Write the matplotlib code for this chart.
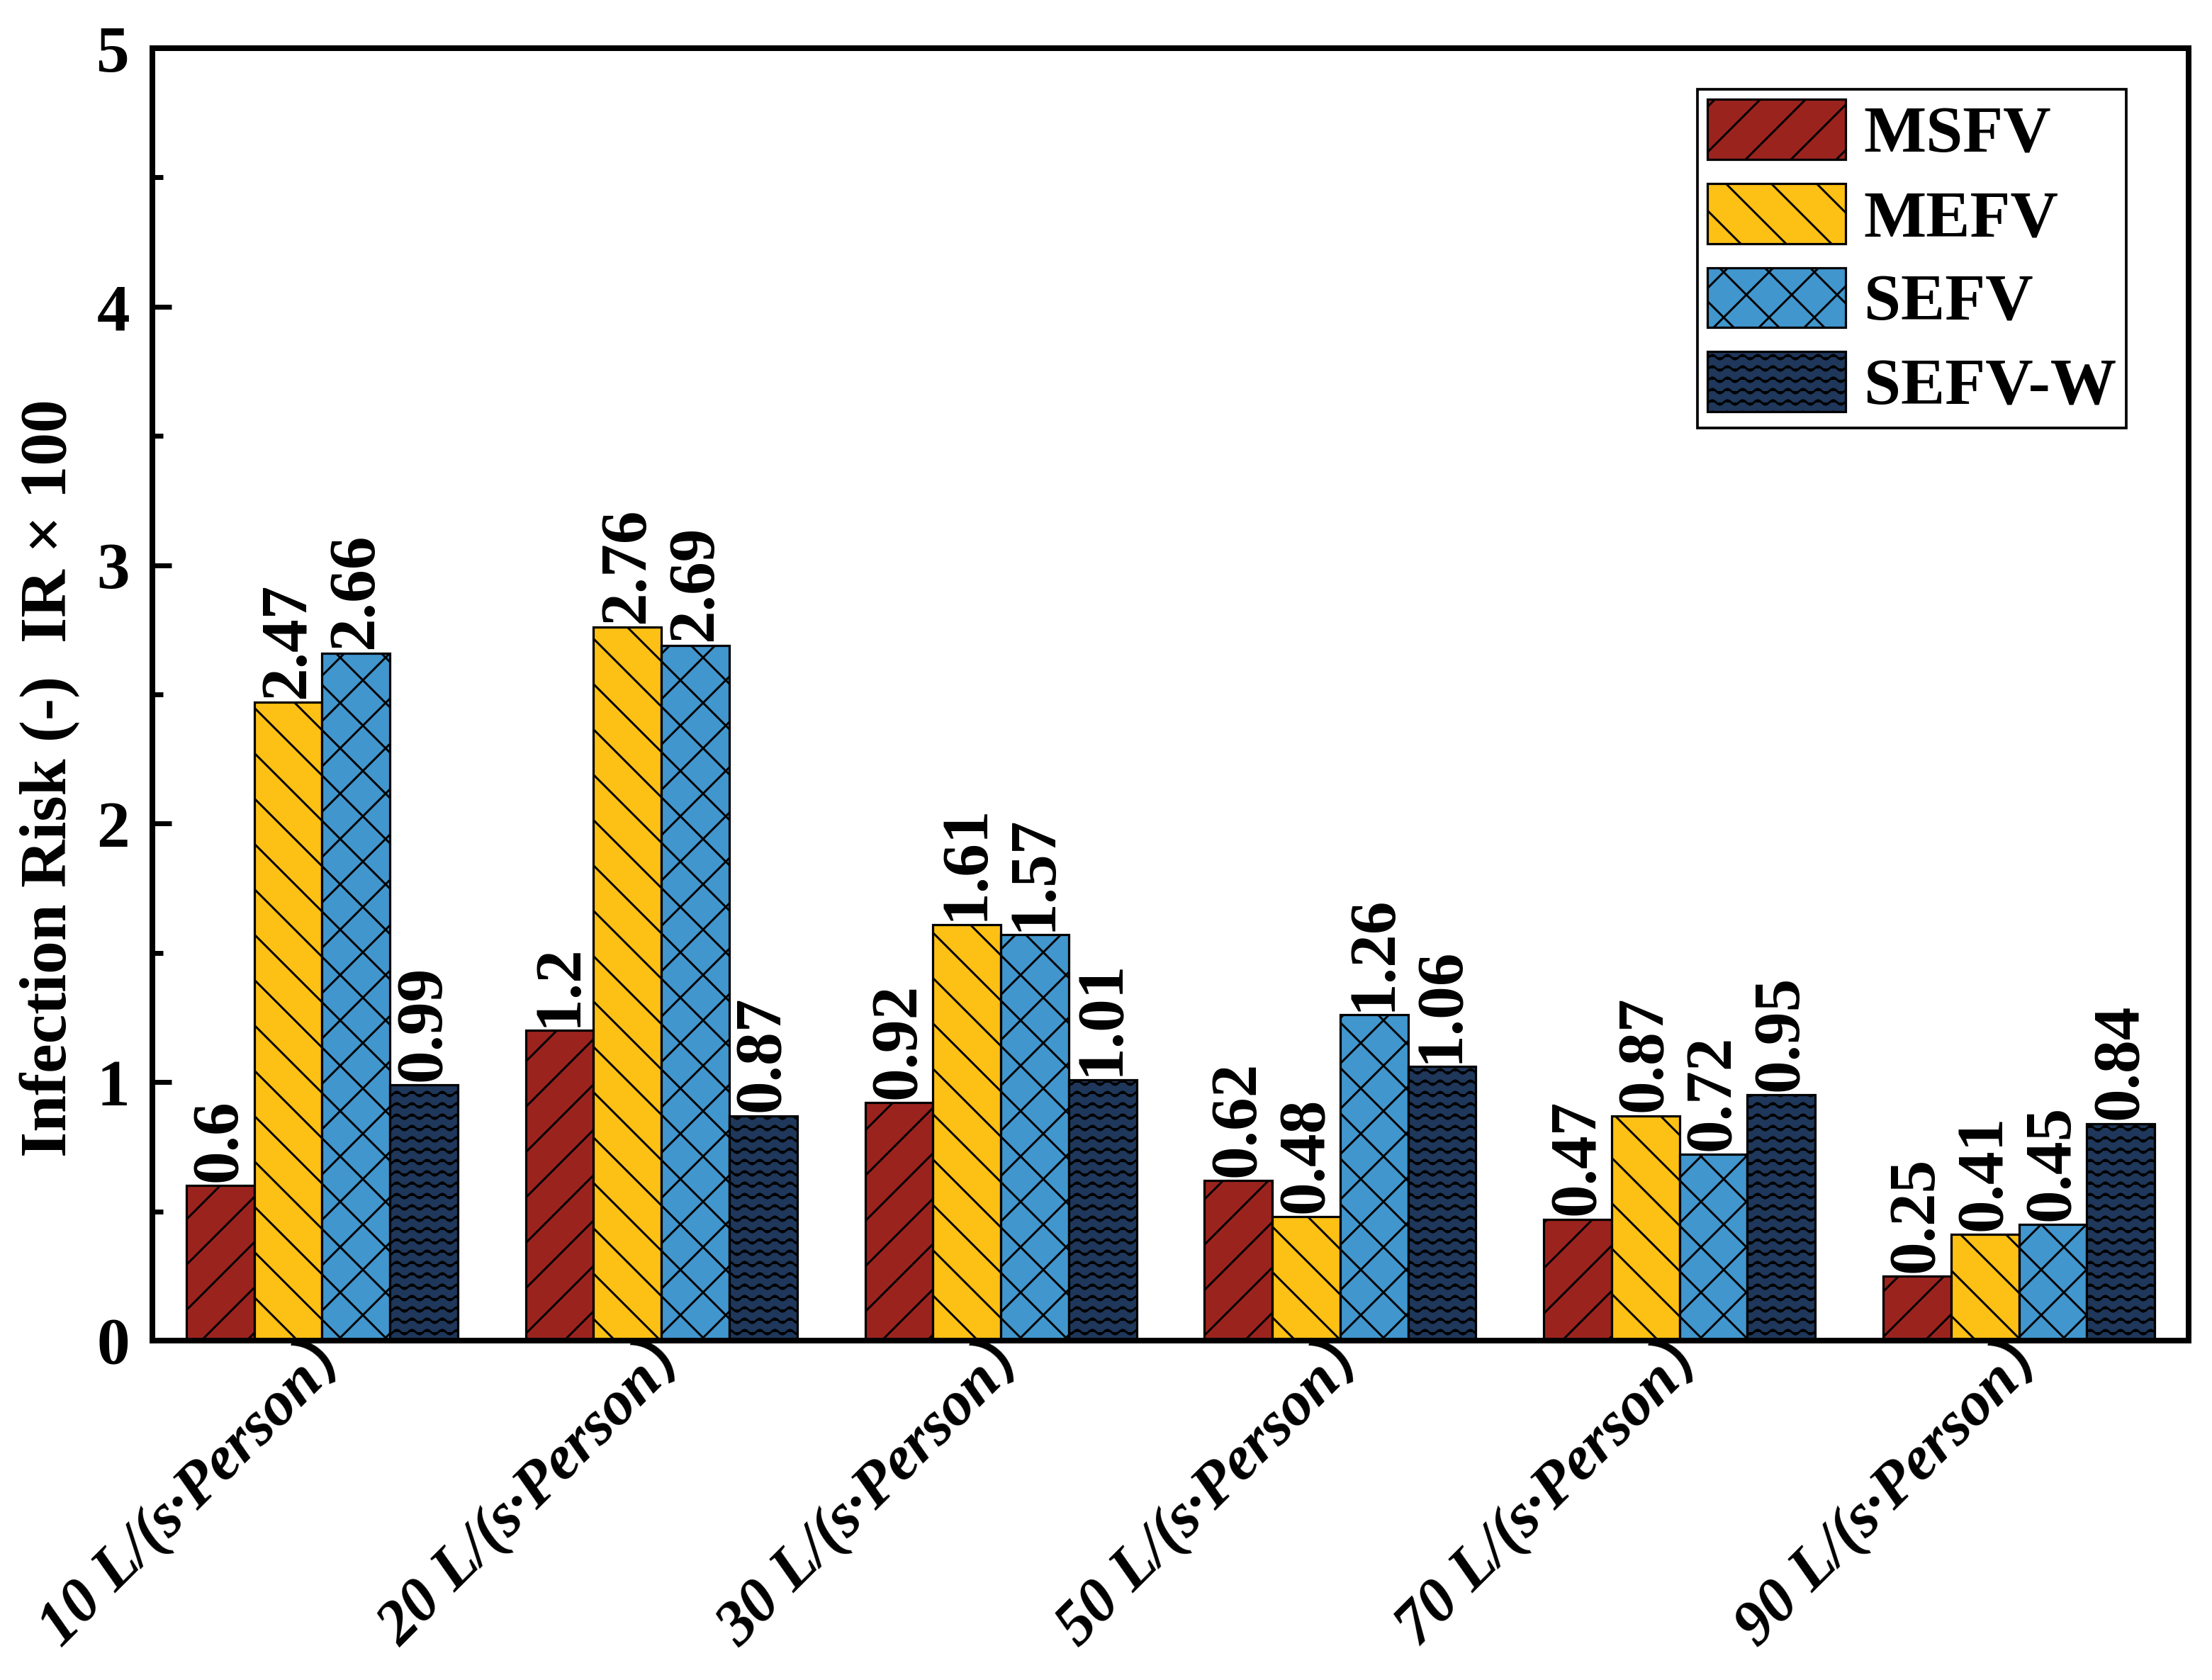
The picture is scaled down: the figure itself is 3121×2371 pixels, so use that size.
import numpy as np
import matplotlib
matplotlib.use("Agg")
import matplotlib.pyplot as plt
import matplotlib.hatch as mhatch
import matplotlib.transforms as mtransforms
from matplotlib.path import Path

# Data (Infection Risk IR x 100)
categories = ["10 L/(s·Person）", "20 L/(s·Person）", "30 L/(s·Person）",
              "50 L/(s·Person）", "70 L/(s·Person）", "90 L/(s·Person）"]
series_names = ["MSFV", "MEFV", "SEFV", "SEFV-W"]
msfv = [0.6, 1.2, 0.92, 0.62, 0.47, 0.25]
mefv = [2.47, 2.76, 1.61, 0.48, 0.87, 0.41]
sefv = [2.66, 2.69, 1.57, 1.26, 0.72, 0.45]
sefv_w = [0.99, 0.87, 1.01, 1.06, 0.95, 0.84]

colors = ["#9B231E", "#FDC014", "#4196CD", "#1E375A"]
hatches = ["//", "\\\\", "xx", "~~~~"]


# A wavy hatch ("~"), registered next to matplotlib's built-in ones
class WaveHatch(mhatch.HatchPatternBase):
    def __init__(self, hatch, density):
        self.num_lines = int(hatch.count("~") * density)
        self.periods = max(1, int(self.num_lines * 0.75))
        self.pts = self.periods * 8 + 1
        self.num_vertices = self.num_lines * self.pts

    def set_vertices_and_codes(self, vertices, codes):
        n = self.num_lines
        m = self.pts
        xs = np.linspace(0.0, 1.0, m)
        amp = 0.2 / n
        for i in range(n):
            y0 = (i + 0.5) / n
            vertices[i * m:(i + 1) * m, 0] = xs
            vertices[i * m:(i + 1) * m, 1] = y0 + amp * np.sin(2 * np.pi * self.periods * xs)
            codes[i * m:(i + 1) * m] = Path.LINETO
            codes[i * m] = Path.MOVETO


mhatch._hatch_types.append(WaveHatch)

plt.rcParams["font.family"] = ["Liberation Serif", "Noto Sans CJK SC", "DejaVu Sans"]
plt.rcParams["font.weight"] = "bold"
plt.rcParams["hatch.color"] = "black"
plt.rcParams["hatch.linewidth"] = 0.55

DPI = 384
fig = plt.figure(figsize=(3121 / DPI, 2371 / DPI), dpi=DPI)
ax = fig.add_axes([0.0689, 0.2020, 0.9205, 0.7693])

x = np.arange(len(categories))
width = 0.2
all_series = [msfv, mefv, sefv, sefv_w]

for i, (name, vals) in enumerate(zip(series_names, all_series)):
    pos = x + (i - 1.5) * width
    bars = ax.bar(pos, vals, width, color=colors[i], edgecolor="black",
                  linewidth=0.6, label=name)
    for b in bars:
        if "~" in hatches[i]:
            b._hatch = hatches[i]  # custom pattern, set directly
            b.stale = True
        else:
            b.set_hatch(hatches[i])
    for p, v in zip(pos, vals):
        ax.annotate(f"{v:g}", xy=(p, v), xytext=(0, 1.0), textcoords="offset points",
                    rotation=90, ha="center", va="bottom", fontsize=17.5,
                    fontweight="bold")

ax.set_xlim(-0.5, len(categories) - 0.5)
ax.set_ylim(0, 5)
ax.set_yticks([0, 1, 2, 3, 4, 5])
ax.set_yticks(np.arange(0.5, 5, 1.0), minor=True)
ax.tick_params(axis="y", which="major", direction="in", length=5, width=1.3,
               labelsize=17.5, pad=6)
ax.tick_params(axis="y", which="minor", direction="in", length=2.8, width=1.3)
ax.tick_params(axis="x", which="both", length=0, pad=5)
for s in ax.spines.values():
    s.set_linewidth(1.5)

ax.set_xticks(x)
ax.set_xticklabels(categories, rotation=45, ha="right", fontsize=16.5,
                   fontweight="bold", fontstyle="italic")
# nudge the rotated labels so the closing bracket sits just under the group
shift = mtransforms.ScaledTranslation(15 / 72, 15.5 / 72, fig.dpi_scale_trans)
for lab in ax.get_xticklabels():
    lab.set_transform(lab.get_transform() + shift)

ax.set_ylabel("Infection Risk (-)  IR × 100", fontsize=17.5, fontweight="bold",
              va="center")
ax.yaxis.set_label_coords(-0.0505, 0.435)

leg = ax.legend(loc="upper right", bbox_to_anchor=(0.9694, 0.968), fontsize=17.5,
                frameon=True, fancybox=False, framealpha=1, edgecolor="black",
                handlelength=2.08, handleheight=1.02, labelspacing=0.26,
                handletextpad=0.28, borderpad=0.15, borderaxespad=0)
leg.get_frame().set_linewidth(0.7)

fig.savefig("out.png", dpi=DPI)
